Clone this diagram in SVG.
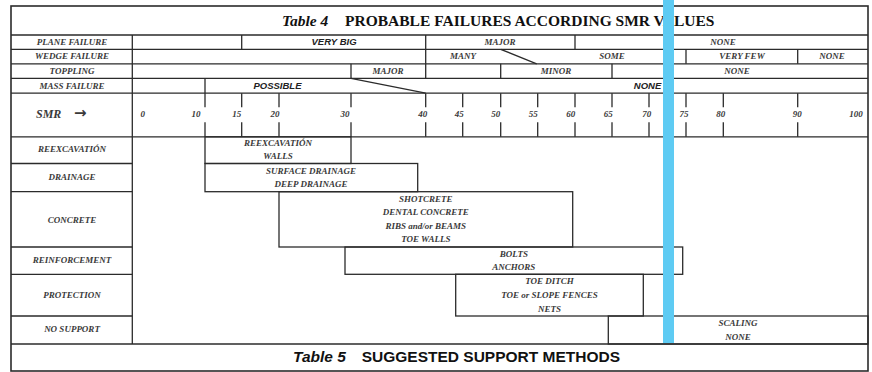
<svg xmlns="http://www.w3.org/2000/svg" width="872" height="372" viewBox="0 0 872 372">
<style>
.ln{stroke:#2b2b2b;stroke-width:1.3;fill:none}
.bx{stroke:#2b2b2b;stroke-width:1.3;fill:none}
.lb{font-family:"Liberation Serif",serif;font-weight:bold;font-style:italic;font-size:9px;fill:#3a3a3a;text-anchor:middle}
.sb{font-family:"Liberation Sans",sans-serif;font-weight:bold;font-style:italic;font-size:9.5px;fill:#222;text-anchor:middle}
.num{font-family:"Liberation Serif",serif;font-weight:bold;font-style:italic;font-size:9px;fill:#3a3a3a;text-anchor:middle}
</style>
<rect width="872" height="372" fill="#fff"/>
<rect x="11" y="6" width="857" height="365" fill="#fff" stroke="#2b2b2b" stroke-width="1.6"/>

<g id="title4">
<text y="26" font-family="Liberation Serif, serif" font-weight="bold" font-size="15.5" fill="#111"><tspan x="282" font-style="italic">Table 4</tspan><tspan x="345">PROBABLE FAILURES ACCORDING SMR VALUES</tspan></text>
</g>

<g id="connectors">
<path class="ln" d="M11,35H868M11,49.3H868M11,63.8H868M11,78.3H868M11,93.2H868M11,136.8H868"/>
<path class="ln" stroke-width="1.6" d="M11,344H868"/>
<path class="ln" d="M132.3,35V344"/>
<path class="ln" d="M11,163.5H132.3M11,191.7H132.3M11,247H132.3M11,274.3H132.3M11,316H132.3"/>
<path class="ln" d="M241.7,35V49.3M425.7,35V78.3M575,35V49.3"/>
<path class="ln" d="M500.7,49.3L536.7,63.8M686,49.3V63.8M797.7,49.3V63.8"/>
<path class="ln" d="M351,63.8V78.3M500.7,63.8V78.3M612,63.8V78.3"/>
<path class="ln" d="M351,78.3L425.7,93.2M205,78.3V107.3"/>
<path class="ln" d="M241.7,93.2V107.3M279,93.2V107.3M351,93.2V107.3M425.7,93.2V107.3M462.7,93.2V107.3M500.7,93.2V107.3M537.7,93.2V107.3M575,93.2V107.3M612,93.2V107.3M649,93.2V107.3M686,93.2V107.3M723.3,93.2V107.3M797.7,93.2V107.3"/>
<path class="ln" d="M205,122.3V136.8M241.7,122.3V136.8M279,122.3V136.8M351,122.3V136.8M425.7,122.3V136.8M462.7,122.3V136.8M500.7,122.3V136.8M537.7,122.3V136.8M575,122.3V136.8M612,122.3V136.8M649,122.3V136.8M686,122.3V136.8M723.3,122.3V136.8M797.7,122.3V136.8"/>
</g>

<g id="row-labels">
<text class="lb" x="72" y="45">PLANE FAILURE</text>
<text class="lb" x="72" y="58.8">WEDGE FAILURE</text>
<text class="lb" x="72" y="74">TOPPLING</text>
<text class="lb" x="72" y="88.5">MASS FAILURE</text>
<text y="117.5" font-family="Liberation Serif, serif" font-weight="bold" font-style="italic" font-size="12" fill="#3a3a3a"><tspan x="36">SMR</tspan><tspan x="74" font-family="DejaVu Sans, sans-serif" font-style="normal" font-size="15">→</tspan></text>
<text class="lb" x="72" y="152.3">REEXCAVATIÓN</text>
<text class="lb" x="72" y="180">DRAINAGE</text>
<text class="lb" x="72" y="222.6">CONCRETE</text>
<text class="lb" x="72" y="263.3">REINFORCEMENT</text>
<text class="lb" x="72" y="297.6">PROTECTION</text>
<text class="lb" x="72" y="332.3">NO SUPPORT</text>
</g>

<g id="plane-failure">
<text class="sb" x="334" y="45">VERY BIG</text>
<text class="lb" x="500" y="45">MAJOR</text>
<text class="lb" x="723" y="45">NONE</text>
</g>
<g id="wedge-failure">
<text class="lb" x="463" y="59">MANY</text>
<text class="lb" x="612" y="59">SOME</text>
<text class="lb" x="742" y="59">VERY FEW</text>
<text class="lb" x="832" y="59">NONE</text>
</g>
<g id="toppling">
<text class="lb" x="388" y="74">MAJOR</text>
<text class="lb" x="556" y="74">MINOR</text>
<text class="lb" x="737" y="74">NONE</text>
</g>
<g id="mass-failure">
<text class="sb" x="277.5" y="88.8">POSSIBLE</text>
<text class="sb" x="647.5" y="88.8">NONE</text>
</g>

<g id="smr-scale">
<text class="num" x="142.7" y="117">0</text>
<text class="num" x="196" y="117">10</text>
<text class="num" x="236.7" y="117">15</text>
<text class="num" x="275" y="117">20</text>
<text class="num" x="345" y="117">30</text>
<text class="num" x="422.7" y="117">40</text>
<text class="num" x="459.3" y="117">45</text>
<text class="num" x="495.7" y="117">50</text>
<text class="num" x="533.3" y="117">55</text>
<text class="num" x="570.7" y="117">60</text>
<text class="num" x="608.3" y="117">65</text>
<text class="num" x="646.7" y="117">70</text>
<text class="num" x="684" y="117">75</text>
<text class="num" x="720.7" y="117">80</text>
<text class="num" x="797.3" y="117">90</text>
<text class="num" x="856" y="117">100</text>
</g>

<g id="reexcavation">
<rect class="bx" x="205" y="136.8" width="146" height="26.7"/>
<text class="lb" x="278" y="146">REEXCAVATIÓN</text>
<text class="lb" x="278" y="159.3">WALLS</text>
</g>
<g id="drainage">
<rect class="bx" x="205" y="163.5" width="212.7" height="28.2"/>
<text class="lb" x="311" y="174">SURFACE DRAINAGE</text>
<text class="lb" x="311" y="187.3">DEEP DRAINAGE</text>
</g>
<g id="concrete">
<rect class="bx" x="279" y="191.7" width="293.7" height="55.3"/>
<text class="lb" x="425.8" y="202.3">SHOTCRETE</text>
<text class="lb" x="425.8" y="215">DENTAL CONCRETE</text>
<text class="lb" x="425.8" y="229.3">RIBS and/or BEAMS</text>
<text class="lb" x="425.8" y="242.3">TOE WALLS</text>
</g>
<g id="reinforcement">
<rect class="bx" x="345" y="247" width="337.7" height="27.3"/>
<text class="lb" x="513.8" y="256.8">BOLTS</text>
<text class="lb" x="513.8" y="270">ANCHORS</text>
</g>
<g id="protection">
<rect class="bx" x="455.7" y="274.3" width="187.6" height="41.7"/>
<text class="lb" x="549.5" y="284.3">TOE DITCH</text>
<text class="lb" x="549.5" y="298.3">TOE or SLOPE FENCES</text>
<text class="lb" x="549.5" y="311.6">NETS</text>
</g>
<g id="no-support">
<rect class="bx" x="608.3" y="316" width="259.7" height="28"/>
<text class="lb" x="738" y="326">SCALING</text>
<text class="lb" x="738" y="340">NONE</text>
</g>

<g id="marker-line">
<rect x="663" y="0" width="11" height="343" fill="#5ECBF3"/>
</g>

<g id="title5">
<text y="362.3" font-family="Liberation Sans, sans-serif" font-weight="bold" font-size="15.5" fill="#111"><tspan x="293" font-style="italic">Table 5</tspan><tspan x="361.7">SUGGESTED SUPPORT METHODS</tspan></text>
</g>
</svg>
